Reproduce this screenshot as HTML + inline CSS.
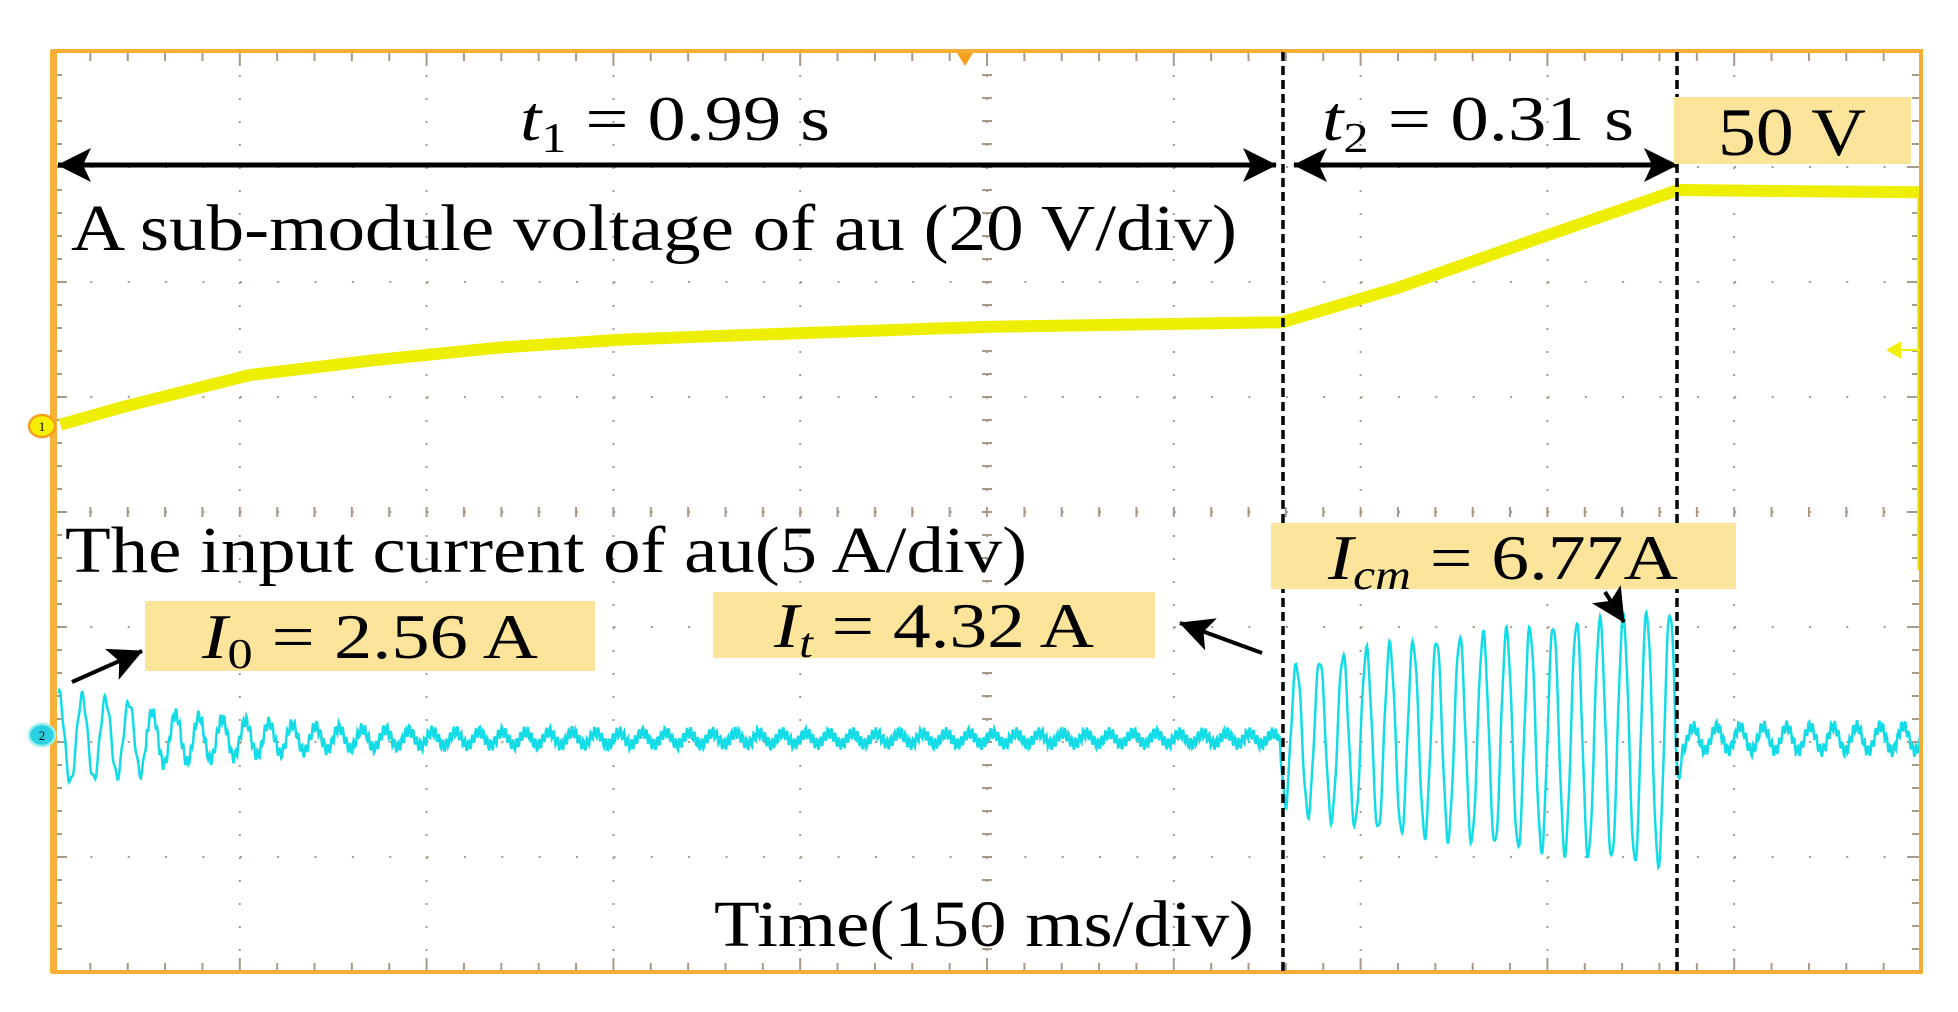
<!DOCTYPE html>
<html><head><meta charset="utf-8">
<style>
html,body{margin:0;padding:0;background:#fff;}
svg{display:block;}
text{font-family:"Liberation Serif",serif;fill:#000;}
</style></head>
<body>
<svg id="scope" width="1958" height="1012" viewBox="0 0 1958 1012" xmlns="http://www.w3.org/2000/svg">
  <defs>
    <marker id="bh" viewBox="0 0 34 34" refX="33" refY="17" markerWidth="34" markerHeight="34" markerUnits="userSpaceOnUse" orient="auto-start-reverse">
      <path d="M0,0 L34,17 L0,34 L8,17 Z" fill="#000"/>
    </marker>
  </defs>
  <rect x="0" y="0" width="1958" height="1012" fill="#fff"/>
  <g id="grid"></g>
  <g id="traces"></g>

  <rect x="53" y="51" width="1868" height="921" fill="none" stroke="#f7ad33" stroke-width="4"/>
  <rect x="50" y="50" width="7" height="923" fill="#f7b03a"/>
  <path d="M957,53 L973,53 L965,66 Z" fill="#f7a020"/>
  <path d="M1888,350 L1900,343 L1900,357 Z M1898,350 L1920,350" stroke="#f0f000" stroke-width="2" fill="#f0f000"/>

  <g>
    <ellipse cx="42" cy="426" rx="13" ry="11" fill="#f5f000" stroke="#f7a020" stroke-width="2.5"/>
    <text x="42" y="431" font-size="13" text-anchor="middle" font-family="Liberation Sans, sans-serif">1</text>
  </g>
  <g>
    <ellipse cx="42" cy="735" rx="13" ry="11" fill="#28d0e0" stroke="#9ee" stroke-width="2.5"/>
    <text x="42" y="740" font-size="13" text-anchor="middle" font-family="Liberation Sans, sans-serif" fill="#fff">2</text>
  </g>

  <line x1="1283" y1="52" x2="1283" y2="972" stroke="#000" stroke-width="3.5" stroke-dasharray="9,5"/>
  <line x1="1677" y1="52" x2="1677" y2="972" stroke="#000" stroke-width="3.5" stroke-dasharray="9,5"/>

  <line x1="58" y1="165" x2="1276" y2="165" stroke="#000" stroke-width="5" marker-start="url(#bh)" marker-end="url(#bh)"/>
  <line x1="1294" y1="165" x2="1677" y2="165" stroke="#000" stroke-width="5" marker-start="url(#bh)" marker-end="url(#bh)"/>

  <text x="520" y="140" font-size="64" textLength="310" lengthAdjust="spacingAndGlyphs"><tspan font-style="italic">t</tspan><tspan font-size="42" dy="12">1</tspan><tspan dy="-12"> = 0.99 s</tspan></text>
  <text x="1322" y="140" font-size="64" textLength="312" lengthAdjust="spacingAndGlyphs"><tspan font-style="italic">t</tspan><tspan font-size="42" dy="12">2</tspan><tspan dy="-12"> = 0.31 s</tspan></text>

  <text x="71" y="250" font-size="66" textLength="1166" lengthAdjust="spacingAndGlyphs">A sub-module voltage of au (20 V/div)</text>
  <text x="65" y="572" font-size="66" textLength="962" lengthAdjust="spacingAndGlyphs">The input current of au(5 A/div)</text>
  <text x="714" y="946" font-size="66" textLength="540" lengthAdjust="spacingAndGlyphs">Time(150 ms/div)</text>

  <g>
    <rect x="1674" y="97" width="237" height="67" fill="#fce59b"/>
    <text x="1792" y="155" font-size="68" text-anchor="middle" textLength="148" lengthAdjust="spacingAndGlyphs">50 V</text>
  </g>
  <g>
    <rect x="1271" y="523" width="465" height="66" fill="#fce59b"/>
    <text x="1503" y="579" font-size="64" text-anchor="middle" textLength="350" lengthAdjust="spacingAndGlyphs"><tspan font-style="italic">I</tspan><tspan font-style="italic" font-size="42" dy="10">cm</tspan><tspan dy="-10"> = 6.77A</tspan></text>
  </g>
  <g>
    <rect x="713" y="592" width="442" height="66" fill="#fce59b"/>
    <text x="934" y="647" font-size="64" text-anchor="middle" textLength="320" lengthAdjust="spacingAndGlyphs"><tspan font-style="italic">I</tspan><tspan font-style="italic" font-size="42" dy="10">t</tspan><tspan dy="-10"> = 4.32 A</tspan></text>
  </g>
  <g>
    <rect x="145" y="601" width="450" height="70" fill="#fce59b"/>
    <text x="370" y="658" font-size="64" text-anchor="middle" textLength="336" lengthAdjust="spacingAndGlyphs"><tspan font-style="italic">I</tspan><tspan font-size="42" dy="10">0</tspan><tspan dy="-10"> = 2.56 A</tspan></text>
  </g>

  <line x1="72" y1="682" x2="142" y2="651" stroke="#000" stroke-width="4" marker-end="url(#bh)"/>
  <line x1="1262" y1="653" x2="1180" y2="623" stroke="#000" stroke-width="4" marker-end="url(#bh)"/>
  <line x1="1605" y1="592" x2="1624" y2="622" stroke="#000" stroke-width="4" marker-end="url(#bh)"/>

<script>
// ---- data (divisions: x 0..10, y relative to screen centre) ----
const voltX = [0.04, 0.39, 1.05, 1.72, 2.39, 3.06, 3.73, 5.0, 6.58, 7.2, 7.9, 8.7, 10.0];
const voltY = [0.76, 0.92, 1.19, 1.32, 1.43, 1.50, 1.54, 1.61, 1.65, 1.95, 2.35, 2.80, 2.78];
const currBase = [-1.97];
const envX = [0.0, 0.5, 1.0, 1.5, 2.0, 3.0, 4.0, 5.0, 6.55, 6.6, 7.1, 7.6, 8.1, 8.6, 8.68, 8.72, 10.0];
const envA = [0.40, 0.30, 0.20, 0.12, 0.08, 0.07, 0.06, 0.06, 0.06, 0.62, 0.80, 0.90, 1.00, 1.10, 1.10, 0.13, 0.14];
const periodDiv = [0.125];

const X0 = 53, X1 = 1921, Y0 = 52, Y1 = 972;
const DX = (X1 - X0) / 10, DY = (Y1 - Y0) / 8;
const xs = d => X0 + d * DX;
const ys = d => (Y0 + Y1) / 2 - d * DY;
const NS = 'http://www.w3.org/2000/svg';

function mk(tag, attrs, parent) {
  const e = document.createElementNS(NS, tag);
  for (const k in attrs) e.setAttribute(k, attrs[k]);
  parent.appendChild(e);
  return e;
}

const grid = document.getElementById('grid');
let gd = '';
for (let i = 1; i < 10; i++) for (let j = 0; j <= 40; j++) gd += `M${xs(i)-1},${Y0 + j*DY/5}h2v2h-2z`;
for (let j = 1; j < 8; j++) for (let i = 0; i <= 50; i++) gd += `M${X0 + i*DX/5}, ${ys(j-4)-1}h2v2h-2z`;
const dots = mk('path', {d: gd, fill: '#a89a88'}, grid);


let td = '';
for (let i = 0; i <= 50; i++) {
  const x = X0 + i*DX/5, L = (i % 5 === 0) ? 14 : 9;
  td += `M${x},${Y0}v${L}M${x},${Y1}v${-L}M${x},${ys(0)-5}v10`;
}
for (let j = 0; j <= 40; j++) {
  const y = Y0 + j*DY/5, L = (j % 5 === 0) ? 14 : 9;
  td += `M${X0},${y}h${L}M${X1},${y}h${-L}M${xs(5)-5},${y}h10`;
}
const ticks = mk('path', {d: td, stroke: '#a89a88', 'stroke-width': 2, fill: 'none'}, grid);



const tr = document.getElementById('traces');
function interp(xa, ya, x) {
  if (x <= xa[0]) return ya[0];
  for (let i = 1; i < xa.length; i++) if (x <= xa[i]) {
    const t = (x - xa[i-1]) / (xa[i] - xa[i-1]);
    return ya[i-1] + t * (ya[i] - ya[i-1]);
  }
  return ya[ya.length-1];
}
let vd = '';
for (let i = 0; i < voltX.length; i++) vd += (i ? 'L' : 'M') + xs(voltX[i]) + ',' + ys(voltY[i]);
const vt = mk('path', {d: vd, stroke: '#eeee00', 'stroke-width': 12, fill: 'none', 'stroke-linejoin': 'round'}, tr);


const vEdge = mk('line', {x1: X1-3, y1: ys(voltY[voltY.length-1]), x2: X1-3, y2: 570, stroke: '#eeee00', 'stroke-width': 2}, tr);



let cd = '';
const step = 0.004;
for (let x = 0.03; x <= 10; x += step) {
  const a = interp(envX, envA, x);
  const big = a > 0.3;
  const v = currBase[0] + a * Math.sin(2 * Math.PI * x / periodDiv[0]) * (big ? 1 : 0.8)
            + (big ? 0.04 * Math.sin(x * 211) : 0.05 * Math.sin(x * 317));
  cd += (cd ? 'L' : 'M') + xs(x).toFixed(1) + ',' + ys(v).toFixed(1);
}
const ct = mk('path', {d: cd, stroke: '#14dce6', 'stroke-width': 2.5, fill: 'none'}, tr);


</script>
</svg>
</body></html>
